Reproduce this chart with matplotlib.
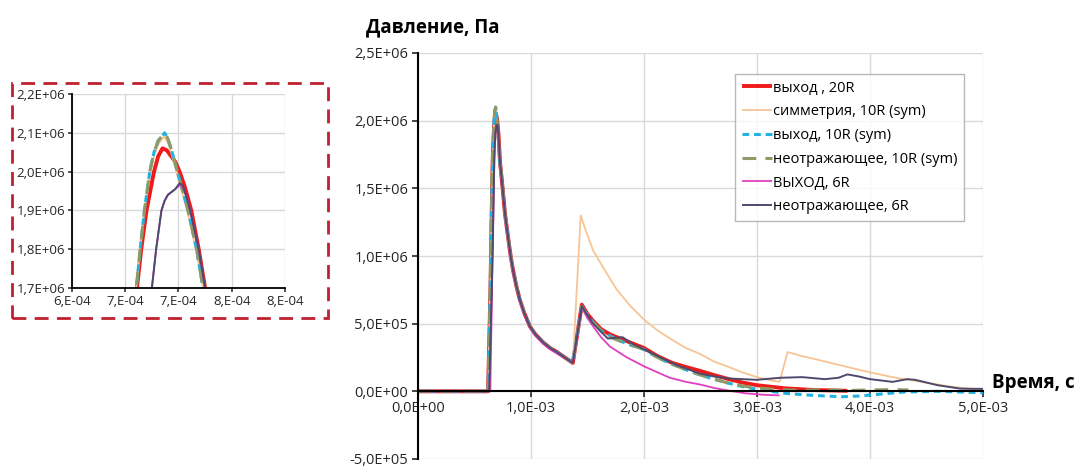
import matplotlib
matplotlib.use("Agg")
import matplotlib.pyplot as plt
import matplotlib.patches as mpatches
import numpy as np

plt.rcParams['font.family'] = ['Open Sans', 'DejaVu Sans']

# ---------------- data (time in ms, pressure in MPa) ----------------
t_out20 = [0, 0.62, 0.64, 0.655, 0.661, 0.665, 0.670, 0.677, 0.681, 0.685, 0.689, 0.693,
           0.697, 0.701, 0.706, 0.712, 0.719, 0.725, 0.735, 0.75, 0.77, 0.80, 0.82, 0.84,
           0.87, 0.90, 0.94, 0.99, 1.04, 1.11, 1.17, 1.23, 1.30, 1.37, 1.45, 1.50, 1.55,
           1.62, 1.70, 1.85, 2.00, 2.12, 2.25, 2.37, 2.50, 2.62, 2.75, 2.87, 3.00, 3.25,
           3.50, 3.80]
p_out20 = [0, 0, 0.70, 1.45, 1.70, 1.80, 1.90, 2.00, 2.04, 2.06, 2.055, 2.04,
           2.025, 2.00, 1.96, 1.90, 1.80, 1.70, 1.62, 1.49, 1.31, 1.12, 1.00, 0.90,
           0.78, 0.68, 0.58, 0.48, 0.42, 0.36, 0.32, 0.29, 0.25, 0.21, 0.64, 0.57, 0.52,
           0.46, 0.42, 0.37, 0.32, 0.26, 0.21, 0.18, 0.15, 0.12, 0.09, 0.065, 0.045, 0.022,
           0.010, 0.004]

t_sym10 = [0, 0.62, 0.64, 0.655, 0.664, 0.668, 0.673, 0.677, 0.681, 0.686, 0.690, 0.693,
           0.699, 0.704, 0.709, 0.713, 0.717, 0.723, 0.735, 0.75, 0.77, 0.80, 0.82, 0.84,
           0.87, 0.90, 0.94, 0.99, 1.04, 1.11, 1.17, 1.23, 1.30, 1.37, 1.44, 1.48, 1.55,
           1.65, 1.76, 1.88, 2.00, 2.12, 2.25, 2.37, 2.50, 2.62, 2.75, 2.87, 3.00, 3.10,
           3.20, 3.27, 3.40, 3.53, 3.75, 4.00, 4.20, 4.42, 4.70, 5.00]
p_sym10 = [0, 0, 0.80, 1.55, 1.80, 1.90, 1.99, 2.04, 2.07, 2.09, 2.075, 2.05,
           1.99, 1.94, 1.89, 1.84, 1.79, 1.70, 1.62, 1.50, 1.31, 1.12, 1.00, 0.90,
           0.78, 0.68, 0.58, 0.48, 0.42, 0.36, 0.32, 0.29, 0.25, 0.21, 1.30, 1.20, 1.04,
           0.90, 0.75, 0.63, 0.53, 0.45, 0.38, 0.32, 0.275, 0.22, 0.18, 0.14, 0.105, 0.085,
           0.07, 0.29, 0.26, 0.235, 0.19, 0.14, 0.105, 0.074, 0.037, 0.007]

t_out10 = [0, 0.62, 0.64, 0.655, 0.664, 0.668, 0.673, 0.677, 0.681, 0.687, 0.690, 0.693,
           0.699, 0.704, 0.709, 0.713, 0.717, 0.723, 0.735, 0.75, 0.77, 0.80, 0.82, 0.84,
           0.87, 0.90, 0.94, 0.99, 1.04, 1.11, 1.17, 1.23, 1.30, 1.37, 1.45, 1.50, 1.55,
           1.62, 1.70, 1.85, 2.00, 2.12, 2.25, 2.37, 2.50, 2.62, 2.75, 2.87, 3.00, 3.25,
           3.50, 3.75, 3.90, 4.10, 4.30, 4.60, 5.00]
p_out10 = [0, 0, 0.80, 1.55, 1.80, 1.90, 2.00, 2.05, 2.08, 2.10, 2.085, 2.06,
           2.00, 1.95, 1.90, 1.85, 1.80, 1.70, 1.62, 1.50, 1.31, 1.12, 1.00, 0.90,
           0.78, 0.68, 0.58, 0.48, 0.42, 0.36, 0.32, 0.29, 0.25, 0.21, 0.63, 0.56, 0.51,
           0.45, 0.41, 0.35, 0.31, 0.25, 0.20, 0.16, 0.12, 0.09, 0.06, 0.035, 0.015, -0.015,
           -0.030, -0.040, -0.035, -0.020, -0.005, 0.0, -0.010]

t_nr10 = [0, 0.62, 0.64, 0.655, 0.664, 0.668, 0.673, 0.677, 0.681, 0.687, 0.690, 0.693,
          0.699, 0.704, 0.709, 0.713, 0.717, 0.723, 0.735, 0.75, 0.77, 0.80, 0.82, 0.84,
          0.87, 0.90, 0.94, 0.99, 1.04, 1.11, 1.17, 1.23, 1.30, 1.37, 1.45, 1.50, 1.55,
          1.62, 1.70, 1.85, 2.00, 2.12, 2.25, 2.37, 2.50, 2.62, 2.75, 2.87, 3.00, 3.20,
          3.40, 3.60, 3.80, 4.00, 4.20, 4.34]
p_nr10 = [0, 0, 0.80, 1.55, 1.80, 1.90, 2.00, 2.05, 2.08, 2.10, 2.085, 2.06,
          2.00, 1.95, 1.90, 1.85, 1.80, 1.70, 1.62, 1.50, 1.31, 1.12, 1.00, 0.90,
          0.78, 0.68, 0.58, 0.48, 0.42, 0.36, 0.32, 0.29, 0.25, 0.21, 0.63, 0.56, 0.51,
          0.45, 0.40, 0.35, 0.31, 0.25, 0.20, 0.16, 0.12, 0.09, 0.06, 0.04, 0.025, 0.012,
          0.008, 0.012, 0.006, 0.010, 0.013, 0.010]

t_out6 = [0, 0.64, 0.66, 0.675, 0.679, 0.684, 0.687, 0.690, 0.697, 0.701, 0.704, 0.708,
          0.711, 0.719, 0.725, 0.735, 0.75, 0.77, 0.80, 0.82, 0.84, 0.87, 0.90, 0.94,
          0.99, 1.04, 1.11, 1.17, 1.23, 1.30, 1.37, 1.45, 1.50, 1.55, 1.62, 1.70, 1.85,
          2.00, 2.12, 2.23, 2.37, 2.50, 2.62, 2.75, 2.90, 3.05, 3.20]
p_out6 = [0, 0, 1.00, 1.70, 1.80, 1.90, 1.925, 1.94, 1.955, 1.965, 1.96, 1.93,
          1.90, 1.80, 1.70, 1.61, 1.48, 1.30, 1.11, 0.99, 0.89, 0.77, 0.67, 0.57,
          0.47, 0.41, 0.35, 0.31, 0.28, 0.245, 0.21, 0.62, 0.54, 0.48, 0.40, 0.33, 0.25,
          0.185, 0.14, 0.10, 0.07, 0.05, 0.025, 0.005, -0.015, -0.025, -0.030]

t_nr6 = [0, 0.63, 0.66, 0.675, 0.679, 0.684, 0.687, 0.690, 0.697, 0.701, 0.704, 0.708,
         0.711, 0.719, 0.725, 0.735, 0.75, 0.77, 0.80, 0.82, 0.84, 0.87, 0.90, 0.94,
         0.99, 1.04, 1.11, 1.17, 1.23, 1.30, 1.37, 1.45, 1.50, 1.55, 1.62, 1.68, 1.74,
         1.81, 1.90, 2.05, 2.17, 2.30, 2.40, 2.50, 2.62, 2.75, 3.00, 3.20, 3.40, 3.60,
         3.72, 3.80, 3.90, 4.00, 4.20, 4.33, 4.40, 4.60, 4.80, 5.00]
p_nr6 = [0, 0, 1.00, 1.70, 1.80, 1.90, 1.925, 1.94, 1.955, 1.97, 1.965, 1.93,
         1.90, 1.80, 1.70, 1.62, 1.49, 1.31, 1.12, 1.00, 0.90, 0.78, 0.68, 0.58,
         0.48, 0.42, 0.36, 0.32, 0.29, 0.25, 0.21, 0.63, 0.56, 0.50, 0.44, 0.39, 0.395,
         0.40, 0.35, 0.29, 0.24, 0.19, 0.16, 0.13, 0.11, 0.095, 0.085, 0.10, 0.105, 0.09,
         0.10, 0.125, 0.11, 0.09, 0.07, 0.09, 0.085, 0.045, 0.02, 0.018]

labels = ["выход , 20R", "симметрия, 10R (sym)", "выход, 10R (sym)",
          "неотражающее, 10R (sym)", "ВЫХОД, 6R", "неотражающее, 6R"]

main_yticks = [-5e5, 0, 5e5, 1e6, 1.5e6, 2e6, 2.5e6]
main_ylabels = ["-5,0E+05", "0,0E+00", "5,0E+05", "1,0E+06", "1,5E+06", "2,0E+06", "2,5E+06"]
main_xticks = [0, 1e-3, 2e-3, 3e-3, 4e-3, 5e-3]
main_xlabels = ["0,0E+00", "1,0E-03", "2,0E-03", "3,0E-03", "4,0E-03", "5,0E-03"]

ins_yticks = [1.7e6, 1.8e6, 1.9e6, 2.0e6, 2.1e6, 2.2e6]
ins_ylabels = ["1,7E+06", "1,8E+06", "1,9E+06", "2,0E+06", "2,1E+06", "2,2E+06"]
ins_xticks = [6.0e-4, 6.5e-4, 7.0e-4, 7.5e-4, 8.0e-4]
ins_xlabels = ["6,E-04", "7,E-04", "7,E-04", "8,E-04", "8,E-04"]

series = [(t_out20, p_out20), (t_sym10, p_sym10), (t_out10, p_out10),
          (t_nr10, p_nr10), (t_out6, p_out6), (t_nr6, p_nr6)]
styles = [dict(color="#F01A1A", lw=2.8, ls="-"),
          dict(color="#F7C595", lw=1.3, ls="-"),
          dict(color="#20B2E0", lw=2.2, ls=(0, (2.2, 1.6))),
          dict(color="#8C9A66", lw=2.2, ls=(0, (4.5, 3.0))),
          dict(color="#E040BE", lw=1.3, ls="-"),
          dict(color="#4E4A6E", lw=1.4, ls="-")]

fig = plt.figure(figsize=(10.79, 4.67), dpi=100)

# ---------------- main axes ----------------
ax = fig.add_axes([418/1079, 1-459/467, 565/1079, 406/467])
for (t, p), st, lab in zip(series, styles, labels):
    ax.plot(np.array(t)*1e-3, np.array(p)*1e6, label=lab, solid_capstyle='butt',
            solid_joinstyle='round', **st)
ax.set_xlim(0, 5e-3)
ax.set_ylim(-5e5, 2.5e6)
ax.set_xticks(main_xticks)
ax.set_xticklabels(main_xlabels)
ax.set_yticks(main_yticks)
ax.set_yticklabels(main_ylabels)
ax.grid(True, color="#D9D9D9", lw=1.0)
ax.set_axisbelow(True)
for s in ["top", "right"]:
    ax.spines[s].set_visible(False)
ax.spines["bottom"].set_position(("data", 0))
ax.spines["bottom"].set_color("black")
ax.spines["bottom"].set_linewidth(1.5)
ax.spines["left"].set_linewidth(1.5)
ax.tick_params(axis="both", labelsize=10.5, colors="#262626", direction="out", length=4, width=1.2)
ax.tick_params(axis="x", pad=3)
ax.tick_params(axis="y", pad=3)

fig.text(366/1079, 1-27/467, "Давление, Па", fontsize=13.5, fontweight="bold", va="center", ha="left")
fig.text(992/1079, 1-383/467, "Время, с", fontsize=13.5, fontweight="bold", va="center", ha="left")

leg = ax.legend(loc="upper left", bbox_to_anchor=(735/1079, 1-74/467), bbox_transform=fig.transFigure,
                fontsize=10.5, frameon=True, fancybox=False, borderaxespad=0,
                handlelength=2.1, handletextpad=0.05, labelspacing=0.6, borderpad=0.45)
leg.get_frame().set_edgecolor("#A6A6A6")
leg.get_frame().set_linewidth(1.0)

# ---------------- inset ----------------
ins = fig.add_axes([72/1079, 1-288/467, 213/1079, 194/467])
for (t, p), st in zip(series, styles):
    ins.plot(np.array(t)*1e-3, np.array(p)*1e6, solid_joinstyle='round', **st)
ins.set_xlim(6e-4, 8e-4)
ins.set_ylim(1.7e6, 2.2e6)
ins.set_xticks(ins_xticks)
ins.set_xticklabels(ins_xlabels)
ins.set_yticks(ins_yticks)
ins.set_yticklabels(ins_ylabels)
ins.grid(True, color="#D9D9D9", lw=1.0)
ins.set_axisbelow(True)
for s in ["top", "right"]:
    ins.spines[s].set_visible(False)
ins.spines["left"].set_linewidth(1.3)
ins.spines["bottom"].set_linewidth(1.3)
ins.tick_params(axis="both", labelsize=9.5, colors="#262626", direction="out", length=3, width=1.1, pad=2)

rect = mpatches.Rectangle((12/1079, 1-318/467), 316/1079, 235/467, transform=fig.transFigure,
                          fill=False, edgecolor="#C0202F", lw=2.0, ls=(0, (5, 3)))
fig.patches.append(rect)

fig.savefig("out.png", dpi=100)
